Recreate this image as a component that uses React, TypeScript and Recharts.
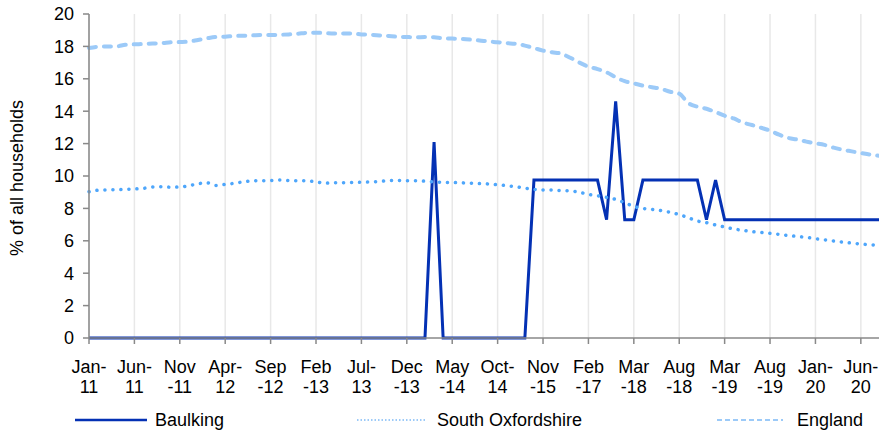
import React from 'react';
import { LineChart, Line, XAxis, YAxis, CartesianGrid, Legend } from 'recharts';

// Category labels (irregular spacing after Oct-14, as in the source sheet)
const months = [
  'Jan-11', 'Feb-11', 'Mar-11', 'Apr-11', 'May-11', 'Jun-11', 'Jul-11', 'Aug-11', 'Sep-11', 'Oct-11',
  'Nov-11', 'Dec-11', 'Jan-12', 'Feb-12', 'Mar-12', 'Apr-12', 'May-12', 'Jun-12', 'Jul-12', 'Aug-12',
  'Sep-12', 'Oct-12', 'Nov-12', 'Dec-12', 'Jan-13', 'Feb-13', 'Mar-13', 'Apr-13', 'May-13', 'Jun-13',
  'Jul-13', 'Aug-13', 'Sep-13', 'Oct-13', 'Nov-13', 'Dec-13', 'Jan-14', 'Feb-14', 'Mar-14', 'Apr-14',
  'May-14', 'Jun-14', 'Jul-14', 'Aug-14', 'Sep-14', 'Oct-14', 'Jan-15', 'Apr-15', 'Jul-15', 'Sep-15',
  'Nov-15', 'Feb-16', 'May-16', 'Aug-16', 'Nov-16', 'Feb-17', 'May-17', 'Aug-17', 'Nov-17', 'Jan-18',
  'Mar-18', 'Apr-18', 'May-18', 'Jun-18', 'Jul-18', 'Aug-18', 'Sep-18', 'Oct-18', 'Nov-18', 'Jan-19',
  'Mar-19', 'Apr-19', 'May-19', 'Jun-19', 'Jul-19', 'Aug-19', 'Sep-19', 'Oct-19', 'Nov-19', 'Dec-19',
  'Jan-20', 'Feb-20', 'Mar-20', 'Apr-20', 'May-20', 'Jun-20', 'Jul-20', 'Aug-20',
];

const tickMonths = [
  'Jan-11', 'Jun-11', 'Nov-11', 'Apr-12', 'Sep-12', 'Feb-13', 'Jul-13', 'Dec-13', 'May-14',
  'Oct-14', 'Nov-15', 'Feb-17', 'Mar-18', 'Aug-18', 'Mar-19', 'Aug-19', 'Jan-20', 'Jun-20',
];

const yTicks = [0, 2, 4, 6, 8, 10, 12, 14, 16, 18, 20];

const baulking = [
  0, 0, 0, 0, 0, 0, 0, 0, 0, 0,
  0, 0, 0, 0, 0, 0, 0, 0, 0, 0,
  0, 0, 0, 0, 0, 0, 0, 0, 0, 0,
  0, 0, 0, 0, 0, 0, 0, 0, 12.1, 0,
  0, 0, 0, 0, 0, 0, 0, 0, 0, 9.75,
  9.75, 9.75, 9.75, 9.75, 9.75, 9.75, 9.75, 7.3, 14.6, 7.3,
  7.3, 9.75, 9.75, 9.75, 9.75, 9.75, 9.75, 9.75, 7.3, 9.75,
  7.3, 7.3, 7.3, 7.3, 7.3, 7.3, 7.3, 7.3, 7.3, 7.3,
  7.3, 7.3, 7.3, 7.3, 7.3, 7.3, 7.3, 7.3,
];

const southOxfordshire = [
  9.03, 9.12, 9.14, 9.15, 9.18, 9.2, 9.24, 9.32, 9.34, 9.31,
  9.32, 9.4, 9.52, 9.58, 9.42, 9.48, 9.55, 9.64, 9.7, 9.71,
  9.72, 9.75, 9.72, 9.71, 9.7, 9.64, 9.56, 9.58, 9.59, 9.6,
  9.61, 9.63, 9.66, 9.72, 9.73, 9.7, 9.7, 9.68, 9.64, 9.61,
  9.6, 9.58, 9.56, 9.53, 9.51, 9.46, 9.4, 9.34, 9.25, 9.18,
  9.14, 9.13, 9.1, 9.08, 9.0, 8.86, 8.78, 8.68, 8.56, 8.35,
  8.12, 8.0, 7.94, 7.86, 7.76, 7.62, 7.42, 7.22, 7.12, 6.98,
  6.85, 6.73, 6.65, 6.57, 6.52, 6.46, 6.4, 6.33, 6.27, 6.21,
  6.13, 6.06, 5.99, 5.92, 5.86, 5.8, 5.76, 5.72,
];

const england = [
  17.9, 17.98, 18.0, 18.0, 18.1, 18.13, 18.15, 18.18, 18.2, 18.25,
  18.27, 18.3, 18.4, 18.5, 18.58, 18.6, 18.64, 18.66, 18.68, 18.7,
  18.7, 18.72, 18.74, 18.78, 18.84, 18.85, 18.82, 18.8, 18.8, 18.8,
  18.74, 18.72, 18.68, 18.64, 18.6, 18.58, 18.56, 18.58, 18.56, 18.5,
  18.48, 18.46, 18.42, 18.37, 18.3, 18.26, 18.2, 18.16, 18.05, 17.9,
  17.74, 17.64, 17.55, 17.3, 17.0, 16.75, 16.6, 16.4, 16.1, 15.85,
  15.72, 15.58, 15.48, 15.38, 15.2, 15.08, 14.5, 14.28, 14.15, 13.95,
  13.72, 13.55, 13.3, 13.15, 12.98, 12.8, 12.55, 12.35, 12.25, 12.12,
  12.02, 11.92, 11.75, 11.62, 11.52, 11.42, 11.32, 11.25,
];

const data = months.map((month, i) => ({
  month,
  baulking: baulking[i],
  southOxfordshire: southOxfordshire[i],
  england: england[i],
}));

const DARK = '#0431b4';
const MID = '#4ea6fb';
const LIGHT = '#9ccaf8';
const AXIS = '#898989';

// Excel wraps the short month names after the hyphen, the wider ones before it
const narrowMonths = ['Jan', 'Apr', 'Jun', 'Jul', 'Oct'];

const MonthTick = (props: any) => {
  const { x, y, payload } = props;
  const [mon, yr] = String(payload.value).split('-');
  const first = narrowMonths.includes(mon) ? `${mon}-` : mon;
  const second = narrowMonths.includes(mon) ? yr : `-${yr}`;
  return (
    <text x={x} y={y} textAnchor="middle" fontSize={18} fill="#000">
      <tspan x={x} dy={27}>{first}</tspan>
      <tspan x={x} dy={20}>{second}</tspan>
    </text>
  );
};

const YLabel = (props: any) => {
  const vb = props.viewBox || { y: 14, height: 324 };
  const cy = vb.y + vb.height / 2 + 2;
  return (
    <text
      x={17}
      y={cy}
      transform={`rotate(-90 17 ${cy})`}
      textAnchor="middle"
      dominantBaseline="central"
      fontSize={18}
      fill="#000"
    >
      % of all households
    </text>
  );
};

// gridlines only where the labelled ticks sit
const gridX = ({ xAxis, offset }: any) => {
  if (xAxis && typeof xAxis.scale === 'function') {
    return tickMonths.map((m) => xAxis.scale(m));
  }
  const step = offset.width / (months.length - 1);
  return tickMonths.map((m) => offset.left + months.indexOf(m) * step);
};

const legendItems = [
  { name: 'Baulking', left: 75, width: 72, gap: 8, stroke: DARK, dash: undefined, sw: 2.5 },
  { name: 'South Oxfordshire', left: 357, width: 68, gap: 12, stroke: LIGHT, dash: '1.5 2', sw: 2 },
  { name: 'England', left: 717, width: 66, gap: 14, stroke: LIGHT, dash: '5 3', sw: 2 },
];

const renderLegend = () => (
  <div style={{ position: 'relative', width: 879, height: 35 }}>
    {legendItems.map((item) => (
      <div
        key={item.name}
        style={{
          position: 'absolute',
          left: item.left,
          top: 9,
          height: 26,
          display: 'flex',
          alignItems: 'center',
        }}
      >
        <svg width={item.width} height={6}>
          <line
            x1={0}
            y1={3}
            x2={item.width}
            y2={3}
            stroke={item.stroke}
            strokeWidth={item.sw}
            strokeDasharray={item.dash}
          />
        </svg>
        <span style={{ marginLeft: item.gap, fontSize: 18, color: '#000', whiteSpace: 'nowrap' }}>
          {item.name}
        </span>
      </div>
    ))}
  </div>
);

export default function App() {
  return (
    <div
      style={{
        position: 'absolute',
        left: 0,
        top: 0,
        width: 879,
        height: 433,
        background: '#fff',
        fontFamily: '"Liberation Sans", Arial, sans-serif',
      }}
    >
      <LineChart
        width={879}
        height={433}
        data={data}
        margin={{ top: 14, right: 0, left: 0, bottom: 0 }}
      >
        <CartesianGrid
          vertical
          horizontal={false}
          stroke="#e8e8e8"
          strokeWidth={1.5}
          verticalCoordinatesGenerator={gridX}
        />
        <Line
          type="linear"
          dataKey="baulking"
          name="Baulking"
          stroke={DARK}
          strokeWidth={3}
          dot={false}
          isAnimationActive={false}
        />
        <Line
          type="monotone"
          dataKey="southOxfordshire"
          name="South Oxfordshire"
          stroke={MID}
          strokeWidth={3.5}
          strokeDasharray="0.1 7.9"
          strokeLinecap="round"
          dot={false}
          isAnimationActive={false}
        />
        <Line
          type="monotone"
          dataKey="england"
          name="England"
          stroke={LIGHT}
          strokeWidth={4}
          strokeDasharray="7 8"
          strokeLinecap="round"
          dot={false}
          isAnimationActive={false}
        />
        <XAxis
          dataKey="month"
          ticks={tickMonths}
          interval={0}
          height={60}
          tick={<MonthTick />}
          tickSize={6}
          tickMargin={2}
          stroke={AXIS}
          axisLine={{ stroke: AXIS, strokeWidth: 1.5 }}
          tickLine={{ stroke: AXIS, strokeWidth: 1.5 }}
        />
        <YAxis
          width={89}
          domain={[0, 20]}
          ticks={yTicks}
          interval={0}
          tickSize={6}
          tickMargin={9}
          tick={{ fontSize: 18, fill: '#000' }}
          axisLine={{ stroke: AXIS, strokeWidth: 1.5 }}
          tickLine={{ stroke: AXIS, strokeWidth: 1.5 }}
          label={{ content: <YLabel /> }}
        />
        <Legend verticalAlign="bottom" height={35} content={renderLegend} />
      </LineChart>
    </div>
  );
}
